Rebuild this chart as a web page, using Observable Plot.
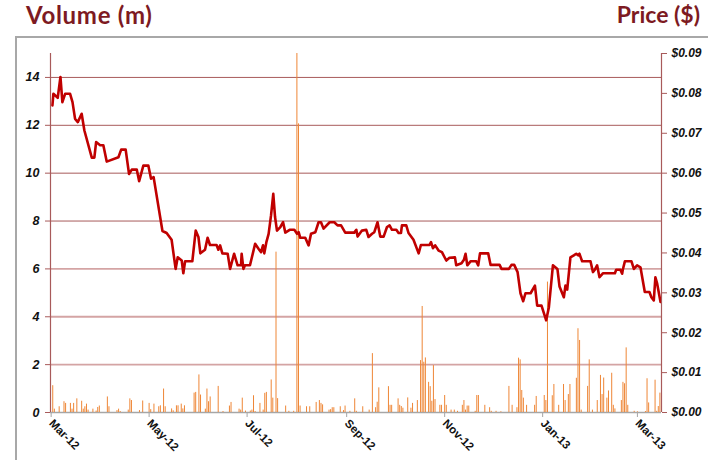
<!DOCTYPE html>
<html>
<head>
<meta charset="utf-8">
<script src="https://cdn.jsdelivr.net/npm/d3@7"></script>
<script src="https://cdn.jsdelivr.net/npm/@observablehq/plot@0.6"></script>
<style>
  html, body { margin: 0; padding: 0; background: #fff; }
  #wrap { position: relative; width: 708px; height: 460px; overflow: hidden; font-family: Lato, "Open Sans", sans-serif; }
  #frame { position: absolute; left: 15px; top: 36px; width: 900px; height: 600px; border: 2px solid #a8a8a8; box-sizing: border-box; }
  .title { position: absolute; top: 0px; font-size: 24px; font-weight: 700; color: #7d1a22; white-space: nowrap; }
  #chart { position: absolute; left: 0; top: 0; }
  #chart svg text { fill: #111; }
</style>
</head>
<body>
<div id="wrap">
  <div id="frame"></div>
  <div class="title" style="left:26px; letter-spacing:0.7px">Volume (m)</div>
  <div class="title" style="right:8px; font-size:23px">Price ($)</div>
  <div id="chart"></div>
</div>
<script>
// ---- data ----
// days after 1 Mar 2012
const priceDay = [0.8,1.4,4.1,5.8,7.0,8.7,11.8,13.3,14.9,16.6,
  19.0,20.7,25.3,26.9,28.0,30.5,32.5,34.6,41.9,43.6,
  46.4,48.5,50.2,53.3,54.8,57.4,60.5,62.2,63.8,69.3,
  71.9,75.0,77.5,78.8,81.3,82.3,83.4,87.9,90.0,91.7,
  92.9,95.8,97.4,98.9,103.0,104.1,105.2,106.6,109.9,111.4,
  113.9,116.1,118.2,118.6,119.7,120.7,123.8,127.0,129.2,130.7,
  131.9,132.7,134.0,135.4,136.9,138.3,139.4,140.6,142.7,144.4,
  145.8,148.5,151.4,153.1,154.1,155.1,158.2,160.3,161.8,164.5,
  166.5,168.0,169.6,173.4,176.3,178.3,180.5,183.1,188.7,190.0,
  190.8,193.5,196.2,197.6,199.8,201.2,203.2,204.9,207.0,209.1,
  210.7,212.2,214.9,216.3,217.8,218.4,221.1,222.5,225.6,228.8,
  230.2,235.6,236.5,237.7,239.1,241.2,243.3,246.0,248.0,251.4,
  252.2,255.5,257.0,258.0,259.1,261.1,264.7,265.9,267.0,272.1,
  273.6,279.2,280.4,285.0,286.6,288.3,290.4,292.2,293.9,295.3,
  298.5,301.2,302.6,305.3,308.2,309.9,312.4,315.2,316.5,319.2,
  320.2,321.3,323.3,325.4,326.9,328.1,328.9,330.6,335.8,337.3,
  338.5,339.9,341.4,343.5,351.0,351.8,354.4,355.5,355.9,357.2,
  361.3,362.8,364.8,366.9,369.6,372.5,373.7,375.2,376.2,377.3,
  379.4];
const price = [0.0770,0.0799,0.0789,0.0841,0.0778,0.0799,0.0799,0.0778,0.0736,0.0728,
  0.0749,0.0707,0.0639,0.0639,0.0678,0.0670,0.0670,0.0629,0.0640,0.0659,
  0.0659,0.0598,0.0609,0.0609,0.0580,0.0619,0.0619,0.0586,0.0590,0.0455,
  0.0450,0.0433,0.0360,0.0389,0.0381,0.0349,0.0379,0.0379,0.0456,0.0440,
  0.0399,0.0408,0.0438,0.0420,0.0420,0.0408,0.0419,0.0399,0.0398,0.0360,
  0.0398,0.0369,0.0369,0.0398,0.0360,0.0369,0.0369,0.0423,0.0410,0.0402,
  0.0419,0.0399,0.0427,0.0448,0.0494,0.0548,0.0490,0.0456,0.0465,0.0477,
  0.0451,0.0458,0.0458,0.0448,0.0452,0.0438,0.0438,0.0419,0.0448,0.0452,
  0.0477,0.0477,0.0461,0.0477,0.0477,0.0469,0.0469,0.0451,0.0451,0.0458,
  0.0441,0.0456,0.0458,0.0440,0.0448,0.0452,0.0477,0.0441,0.0441,0.0465,
  0.0469,0.0458,0.0458,0.0450,0.0450,0.0469,0.0469,0.0450,0.0433,0.0399,
  0.0420,0.0420,0.0427,0.0412,0.0419,0.0406,0.0402,0.0381,0.0388,0.0389,
  0.0369,0.0374,0.0383,0.0398,0.0369,0.0379,0.0379,0.0369,0.0399,0.0399,
  0.0370,0.0370,0.0360,0.0360,0.0370,0.0370,0.0352,0.0299,0.0279,0.0299,
  0.0299,0.0318,0.0268,0.0268,0.0231,0.0264,0.0369,0.0360,0.0316,0.0289,
  0.0318,0.0308,0.0389,0.0394,0.0398,0.0394,0.0398,0.0379,0.0379,0.0352,
  0.0358,0.0369,0.0339,0.0349,0.0349,0.0358,0.0358,0.0348,0.0358,0.0379,
  0.0379,0.0360,0.0369,0.0364,0.0302,0.0302,0.0289,0.0281,0.0339,0.0323,
  0.0277];

const volDay = [1,2,5,8,9,12,13,14,16,19,20,21,22,23,26,28,29,30,35,36,
  41,42,43,48,49,50,55,57,61,62,64,67,68,70,71,75,76,78,79,81,
  82,83,89,90,92,93,96,97,98,99,104,107,111,112,117,118,119,121,124,125,
  126,127,130,132,133,134,137,138,140,141,146,148,151,153,154,155,159,161,165,167,
  168,169,173,174,175,176,180,182,183,186,189,190,194,198,200,202,203,204,210,211,
  212,216,217,218,219,222,224,225,228,230,231,232,233,235,236,237,238,239,242,243,
  245,246,249,251,253,256,257,258,259,260,264,265,266,270,273,274,277,280,285,287,
  290,291,292,293,294,296,301,302,307,308,309,312,313,316,319,320,322,323,327,328,
  329,330,334,335,337,340,342,343,344,346,347,349,350,351,355,356,357,358,359,363,
  365,370,371,372,376,377,378,379];
const volume = [1.12,0.14,0.24,0.45,0.38,0.38,0.14,0.38,0.57,0.47,0.14,0.24,0.35,0.10,0.14,0.06,0.21,0.27,0.65,0.24,
  0.08,0.14,0.04,0.10,0.57,0.50,0.08,0.48,0.38,0.12,0.35,0.24,0.28,0.98,0.24,0.15,0.07,0.28,0.28,0.35,
  0.15,0.28,0.81,0.84,1.57,0.73,0.14,0.98,0.45,0.65,1.09,0.04,0.27,0.42,0.14,0.10,0.60,0.06,0.06,0.10,
  0.70,0.04,0.38,0.10,0.80,0.84,1.36,0.60,6.70,0.58,0.27,0.05,0.05,15.0,12.06,0.27,0.24,0.24,0.42,0.50,
  0.38,0.32,0.10,0.12,0.20,0.20,0.24,0.08,0.27,0.05,0.57,0.05,0.24,0.10,2.46,0.20,0.43,1.03,1.08,0.30,
  0.30,0.57,0.30,0.25,0.18,0.61,0.18,0.38,0.50,2.17,4.43,2.10,2.28,1.26,1.08,0.47,1.96,0.54,0.30,0.30,
  0.71,0.30,0.10,0.10,0.05,0.30,0.50,0.10,0.27,0.27,0.05,0.71,0.71,0.30,0.20,0.05,0.05,0.03,1.09,0.30,
  0.20,2.27,2.20,0.92,0.60,0.30,0.30,0.67,0.71,0.50,5.45,0.70,1.17,0.30,1.17,0.50,0.75,1.17,1.43,3.50,
  3.01,0.10,1.09,2.20,0.10,0.50,1.55,0.75,1.44,0.60,0.90,1.64,0.30,0.15,0.50,1.26,1.20,2.70,0.30,0.05,
  0.03,0.04,1.41,0.40,1.35,0.05,0.25,0.81];

const volTicks = [0, 2, 4, 6, 8, 10, 12, 14];
const priceTicks = [0, 0.01, 0.02, 0.03, 0.04, 0.05, 0.06, 0.07, 0.08, 0.09];
const monthTicks = ["2012-03-01","2012-05-01","2012-07-01","2012-09-01","2012-11-01","2013-01-01","2013-03-01"];

// ---- build tables ----
const DAY = 864e5;
const base = Date.UTC(2012, 2, 1);
const toDate = d => new Date(base + d * DAY);
const priceData = priceDay.map((d, i) => ({date: toDate(d), price: price[i]}));
const volData = volDay.map((d, i) => ({date: toDate(d), vol: volume[i]}));
const VMAX = 15, PMAX = 0.09, k = VMAX / PMAX;  // price -> left-axis units
const xDomain = [toDate(-0.4), toDate(380)];

const red = "#a85a5a";
const pink = "#d4a4a4";
const tickFont = "'Liberation Sans', Arial, sans-serif";
const chart = Plot.plot({
  width: 708,
  height: 460,
  marginLeft: 50,
  marginRight: 47,
  marginTop: 53,
  marginBottom: 48,
  style: {background: "transparent", fontFamily: tickFont, fontSize: "12px"},
  x: {type: "utc", domain: xDomain},
  y: {domain: [0, VMAX]},
  marks: [
    Plot.ruleY(volTicks.filter(v => v > 6), {stroke: red, strokeWidth: 1}),
    Plot.ruleY(volTicks.filter(v => v > 0 && v <= 6), {stroke: pink, strokeWidth: 1.8}),
    Plot.ruleY([0], {stroke: "#a6a6a6", strokeWidth: 1.5}),
    Plot.ruleX(volData, {x: "date", y1: 0, y2: "vol", stroke: "#ee8636", strokeWidth: 1}),
    Plot.line(priceData, {x: "date", y: d => d.price * k, stroke: "#c00000", strokeWidth: 2.6, strokeLinejoin: "round", curve: "linear"}),
    Plot.ruleX([xDomain[0]], {y1: 0, y2: VMAX, stroke: red, strokeWidth: 1.2}),
    Plot.ruleX([xDomain[1]], {y1: 0, y2: VMAX, stroke: red, strokeWidth: 1.2}),
    Plot.axisY({ticks: volTicks, tickSize: 5, tickPadding: 6, stroke: red, fill: "#111",
      fontWeight: "bold", fontStyle: "italic", fontSize: 12.5, label: null, tickFormat: d => String(d)}),
    Plot.axisY({anchor: "right", ticks: priceTicks.map(p => p * k), tickSize: 5, tickPadding: 5, stroke: red, fill: "#111",
      fontWeight: "bold", fontStyle: "italic", fontSize: 12, label: null,
      tickFormat: v => "$" + (v / k).toFixed(2)}),
    Plot.axisX({ticks: monthTicks.map(s => new Date(s)), tickSize: 5, tickPadding: 4, tickRotate: 45, stroke: "#a6a6a6", fill: "#111",
      fontWeight: "bold", fontSize: 11.5, label: null, tickFormat: d3.utcFormat("%b-%y")})
  ]
});
document.getElementById("chart").appendChild(chart);
</script>
</body>
</html>
